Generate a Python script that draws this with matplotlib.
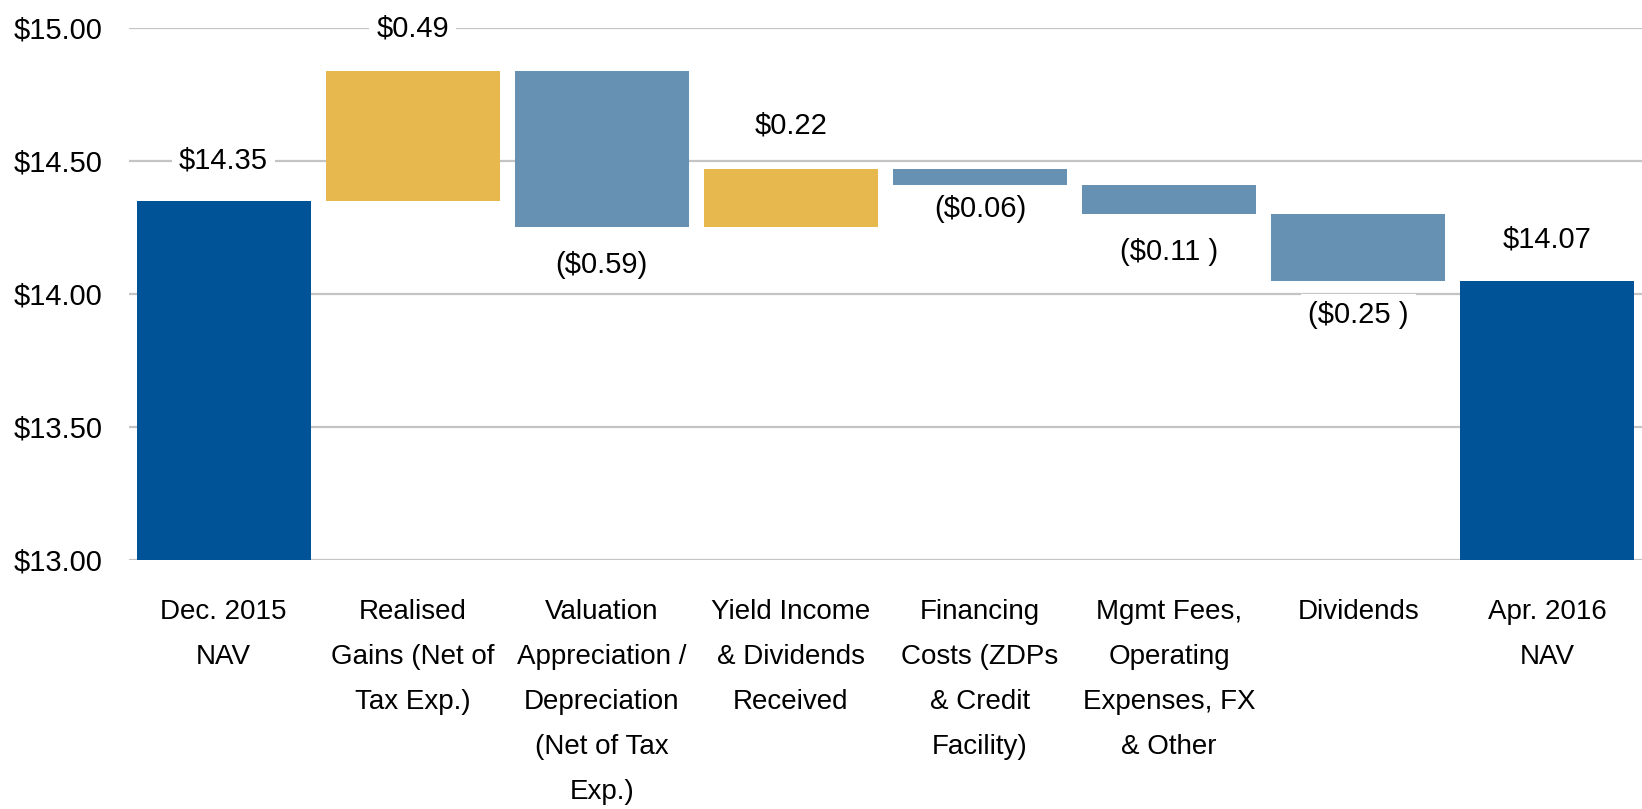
import matplotlib.pyplot as plt
import numpy as np

categories = ["Dec. 2015\nNAV", "Realised\nGains (Net of\nTax Exp.)",
              "Valuation\nAppreciation /\nDepreciation\n(Net of Tax\nExp.)",
              "Yield Income\n& Dividends\nReceived",
              "Financing\nCosts (ZDPs\n& Credit\nFacility)",
              "Mgmt Fees,\nOperating\nExpenses, FX\n& Other",
              "Dividends", "Apr. 2016\nNAV"]
start_nav = 14.35
changes = [0.49, -0.59, 0.22, -0.06, -0.11, -0.25]
value_labels = ["$14.35", "$0.49", "($0.59)", "$0.22", "($0.06)",
                "($0.11 )", "($0.25 )", "$14.07"]
yticks = [13.0, 13.5, 14.0, 14.5, 15.0]

plt.rcParams['font.family'] = ['Liberation Sans', 'DejaVu Sans']

dark_blue = '#005396'
gold = '#E6B84D'
light_blue = '#6691B3'

# waterfall geometry from the data
levels = start_nav + np.cumsum([0] + changes)
bottoms = [0]
heights = [start_nav]
colors = [dark_blue]
for i, c in enumerate(changes):
    bottoms.append(min(levels[i], levels[i + 1]))
    heights.append(abs(c))
    colors.append(gold if c > 0 else light_blue)
bottoms.append(0)
heights.append(levels[-1])
colors.append(dark_blue)

fig = plt.figure(figsize=(16.42, 8.09), dpi=100)
ax = fig.add_axes([0.0786, 0.3078, 0.9214, 0.6576])

x = np.arange(len(categories))
ax.bar(x, heights, bottom=bottoms, width=0.92, color=colors, zorder=2)

ax.set_ylim(13, 15)
ax.set_xlim(-0.5, 7.5)
ax.set_yticks(yticks)
ax.set_yticklabels(['${:.2f}'.format(v) for v in yticks])
ax.set_xticks(x)
ax.set_xticklabels(categories, va='top')
for t in ax.get_xticklabels():
    t.set_linespacing(1.95)
ax.tick_params(axis='y', length=0, pad=19, labelsize=21)
ax.tick_params(axis='x', length=0, pad=28, labelsize=20)
ax.yaxis.grid(True, color='#c4c4c4', linewidth=1.6, zorder=0)
ax.set_axisbelow(True)
for s in ax.spines.values():
    s.set_visible(False)

# value labels: above rising/total bars, below falling bars
offsets = [29, 30, -27, 31, -17, -27, -25, 30]
for i, lab in enumerate(value_labels):
    top = bottoms[i] + heights[i]
    y = top if offsets[i] > 0 else bottoms[i]
    ax.annotate(lab, (x[i], y), xytext=(0, offsets[i]), textcoords='offset points',
                ha='center', va='center', fontsize=21, zorder=3,
                bbox=dict(boxstyle='square,pad=0.25', fc='white', ec='none'))

fig.savefig('out.png', dpi=100)
